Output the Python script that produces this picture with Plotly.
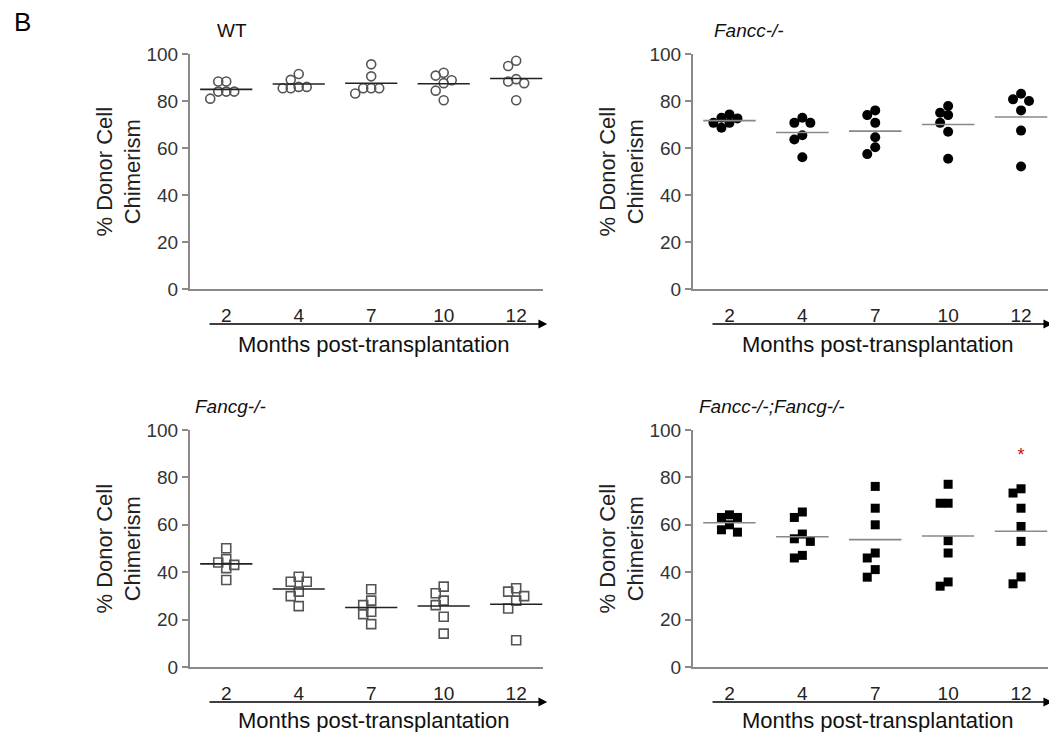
import numpy as np
import plotly.graph_objects as go

months = ["2", "4", "7", "10", "12"]

wt = [[88.3, 84.0, 88.3, 81.0, 84.0, 84.0],
      [86.0, 89.0, 91.5, 85.4, 85.4, 86.0],
      [95.6, 85.4, 90.5, 83.2, 85.4, 85.4],
      [92.0, 88.8, 87.6, 80.3, 90.8, 84.4],
      [88.3, 94.9, 87.6, 80.3, 97.1, 89.3]]
fancc = [[70.7, 72.9, 68.6, 74.3, 72.6, 70.7],
         [72.9, 65.4, 70.7, 63.6, 70.7, 56.1],
         [70.7, 74.0, 76.0, 64.6, 60.3, 57.4],
         [77.9, 70.7, 74.0, 75.0, 66.9, 55.4],
         [80.7, 83.1, 80.0, 76.0, 67.4, 52.1]]
fancg = [[45.5, 43.1, 44.1, 36.7, 50.1, 41.7],
         [36.0, 31.8, 36.0, 25.7, 38.1, 29.9],
         [28.0, 23.3, 32.8, 26.1, 18.1, 22.3],
         [33.9, 26.1, 28.0, 21.2, 14.1, 31.1],
         [28.0, 31.8, 24.7, 11.3, 33.2, 29.9]]
dko = [[60.0, 63.1, 64.2, 63.1, 56.9, 57.9],
       [54.1, 63.1, 53.0, 46.0, 65.4, 56.1, 47.1],
       [76.2, 67.0, 60.0, 48.1, 46.0, 41.1, 37.9],
       [77.1, 69.1, 69.1, 53.3, 48.1, 34.1, 35.9],
       [75.2, 73.4, 67.0, 59.3, 53.0, 35.1, 38.0]]
dko_marks = ["", "", "", "", "*"]
dko_mark_level = 89

titles = ["WT", "<i>Fancc-/-</i>", "<i>Fancg-/-</i>", "<i>Fancc-/-;Fancg-/-</i>"]
y_title = "% Donor Cell<br>Chimerism"
x_title = "Months post-transplantation"

PAGE_MARGIN = 8  # default body margin of the html page
W, H = 1057 - 2 * PAGE_MARGIN, 740 - 2 * PAGE_MARGIN
FONT = "Liberation Sans, Arial, sans-serif"

# panel geometry in screen pixels
panels = [
    dict(data=wt, x0=190, x1=543, ytop=54, ybot=289, tx=25, lab=56,
         marker=dict(symbol="circle-open", size=9, color="#555", line=dict(width=1.6, color="#555")),
         mean_color="#222"),
    dict(data=fancc, x0=693, x1=1048, ytop=54, ybot=289, tx=19, lab=56,
         marker=dict(symbol="circle", size=10, color="#000"),
         mean_color="#888"),
    dict(data=fancg, x0=190, x1=543, ytop=430, ybot=667, tx=3, lab=53,
         marker=dict(symbol="square-open", size=9, color="#555", line=dict(width=1.6, color="#555")),
         mean_color="#222"),
    dict(data=dko, x0=693, x1=1048, ytop=430, ybot=667, tx=4, lab=53,
         marker=dict(symbol="square", size=9, color="#000"),
         mean_color="#888"),
]

XR = [-0.5, 4.37]


def px_x(x):
    return min(1.0, max(0.0, (x - PAGE_MARGIN) / W))


def px_y(y):
    return min(1.0, max(0.0, 1 - (y - PAGE_MARGIN) / H))


def swarm(values, px_per_x, px_per_y, d=8.0, step=8.0):
    order = np.argsort(-np.asarray(values))
    placed = []
    offs = [0.0] * len(values)
    cands = [0, -1, 1, -2, 2, -3, 3, -4, 4]
    for i in order:
        v = values[i]
        for c in cands:
            dx = c * step
            ok = True
            for (px, pv) in placed:
                if abs(px - dx) < d and abs((pv - v) * px_per_y) < d:
                    ok = False
                    break
            if ok:
                placed.append((dx, v))
                offs[i] = dx / px_per_x
                break
    return offs


fig = go.Figure()
layout = dict(width=W, height=H, margin=dict(l=0, r=0, t=0, b=0, autoexpand=False),
              paper_bgcolor="white", plot_bgcolor="white", showlegend=False,
              template="none",
              font=dict(family=FONT, color="#222"))
annotations = []

for k, p in enumerate(panels):
    n = "" if k == 0 else str(k + 1)
    xa, ya = "x" + n, "y" + n
    px_per_x = (p["x1"] - p["x0"]) / (XR[1] - XR[0])
    px_per_y = (p["ybot"] - p["ytop"]) / 100.0
    for ci, vals in enumerate(p["data"]):
        offs = swarm(vals, px_per_x, px_per_y)
        fig.add_trace(go.Scatter(x=[ci + o for o in offs], y=vals, mode="markers",
                                 marker=p["marker"], xaxis=xa, yaxis=ya,
                                 hoverinfo="y"))
        m = float(np.mean(vals))
        fig.add_trace(go.Scatter(x=[ci - 0.36, ci + 0.36], y=[m, m], mode="lines",
                                 line=dict(color=p["mean_color"], width=1.6),
                                 xaxis=xa, yaxis=ya, hoverinfo="skip"))
    dom_x = [px_x(p["x0"]), px_x(p["x1"])]
    dom_y = [px_y(p["ybot"]), px_y(p["ytop"])]
    layout["xaxis" + n] = dict(domain=dom_x, range=XR, anchor=ya, tickmode="array",
                               tickvals=list(range(len(months))), ticktext=months,
                               ticks="", showline=True, linecolor="#8a8a8a", linewidth=2,
                               showgrid=False, zeroline=False, ticklabelstandoff=8,
                               automargin=False,
                               tickfont=dict(size=19, color="#222", family=FONT))
    layout["yaxis" + n] = dict(domain=dom_y, range=[0, 100], anchor=xa, tickmode="array",
                               tickvals=[0, 20, 40, 60, 80, 100], ticks="outside", ticklen=6,
                               tickcolor="#8a8a8a", tickwidth=2,
                               showline=True, linecolor="#8a8a8a", linewidth=2,
                               showgrid=False, zeroline=False, automargin=False,
                               tickfont=dict(size=19, color="#333", family=FONT))
    xd, yd = xa + " domain", ya + " domain"
    hpx = p["ybot"] - p["ytop"]
    wpx = p["x1"] - p["x0"]
    annotations.append(dict(xref=xd, yref=yd, axref=xd, ayref=yd,
                            x=1.012, y=-35 / hpx, ax=18 / wpx, ay=-35 / hpx,
                            text="", showarrow=True, arrowhead=2, arrowsize=1.1,
                            arrowwidth=1.6, arrowcolor="#000"))
    annotations.append(dict(xref=xd, yref=yd, x=0.52, y=-p["lab"] / hpx, text=x_title,
                            showarrow=False, xanchor="center", yanchor="middle",
                            borderpad=0,
                            font=dict(size=22, color="#111", family=FONT)))
    annotations.append(dict(xref=xd, yref=yd, x=-72 / wpx, y=0.5, text=y_title,
                            textangle=-90, showarrow=False, xanchor="center", yanchor="middle",
                            font=dict(size=22, color="#222", family=FONT)))
    annotations.append(dict(xref=xd, yref=yd, x=p["tx"] / wpx,
                            y=1 + 24 / hpx, text=titles[k], showarrow=False,
                            xanchor="left", yanchor="middle",
                            font=dict(size=19, color="#111", family=FONT)))

for ci, s in enumerate(dko_marks):
    if s:
        fig.add_trace(go.Scatter(x=[ci], y=[dko_mark_level], mode="text", text=[s],
                                 textfont=dict(size=18, color="#cc1111", family=FONT),
                                 xaxis="x4", yaxis="y4", hoverinfo="skip"))

annotations.append(dict(xref="paper", yref="paper", x=px_x(12), y=px_y(22), text="B",
                        showarrow=False, xanchor="left", yanchor="middle",
                        font=dict(size=26, color="#000", family=FONT)))
layout["annotations"] = annotations
fig.update_layout(**layout)
fig.write_html("out.html")
